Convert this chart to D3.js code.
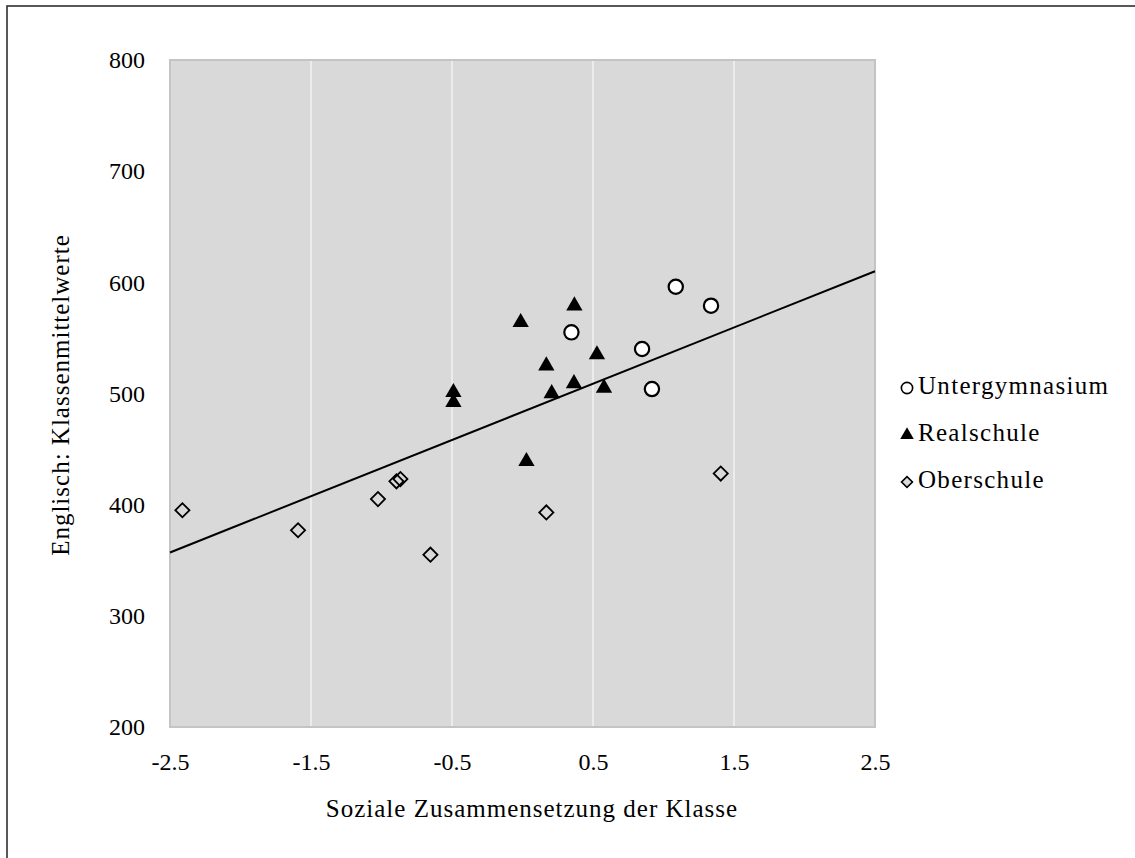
<!DOCTYPE html>
<html>
<head>
<meta charset="utf-8">
<script src="https://cdn.jsdelivr.net/npm/d3@7"></script>
<style>
  body { margin: 0; background: #fff; }
  text { font-family: "Liberation Serif", "Times New Roman", serif; fill: #000; }
</style>
</head>
<body>
<div id="chart"></div>
<script>
// Data
var gymX = [1.087, 1.337, 0.347, 0.848, 0.918];
var gymY = [596, 579, 555, 540, 504];

var realX = [0.368, -0.013, 0.528, 0.169, 0.365, 0.578, 0.207, -0.49, -0.49, 0.028];
var realY = [579, 564, 535, 525, 509, 505, 500, 501, 492, 439];

var oberX = [-2.412, -1.592, -1.025, -0.894, -0.866, -0.653, 1.406, 0.169];
var oberY = [395, 377, 405, 421, 423, 355, 428, 393];

var trendX = [-2.5, 2.5];
var trendY = [357, 610];

var xTicks = [-2.5, -1.5, -0.5, 0.5, 1.5, 2.5];
var yTicks = [200, 300, 400, 500, 600, 700, 800];
var seriesNames = ["Untergymnasium", "Realschule", "Oberschule"];

// Variables
var width = 1135;
var height = 858;
var plot = { left: 170, right: 875, top: 60, bottom: 727 };

var svg = d3.select('#chart')
    .append('svg')
    .attr('width', width)
    .attr('height', height);

// outer frame (only top and left edges visible)
svg.append('path')
    .attr('d', 'M7,' + height + 'V6H' + width)
    .attr('fill', 'none')
    .attr('stroke', '#222')
    .attr('stroke-width', 1.5);

var x = d3.scaleLinear().domain([-2.5, 2.5]).range([plot.left, plot.right]);
var y = d3.scaleLinear().domain([200, 800]).range([plot.bottom, plot.top]);

// plot area
svg.append('rect')
    .attr('x', plot.left)
    .attr('y', plot.top)
    .attr('width', plot.right - plot.left)
    .attr('height', plot.bottom - plot.top)
    .attr('fill', '#d9d9d9')
    .attr('stroke', '#c4c4c4')
    .attr('stroke-width', 2);

// vertical gridlines
svg.selectAll('.grid')
    .data(xTicks.slice(1, -1))
    .enter().append('line')
    .attr('x1', function (d) { return x(d); })
    .attr('x2', function (d) { return x(d); })
    .attr('y1', plot.top + 1)
    .attr('y2', plot.bottom - 1)
    .attr('stroke', '#fff')
    .attr('stroke-width', 1);

// axes (labels only)
var xAxis = svg.append('g')
    .attr('transform', 'translate(0,' + (plot.bottom + 35) + ')')
    .call(d3.axisBottom(x).tickValues(xTicks).tickSize(0)
        .tickFormat(function (d) { return d.toFixed(1); }));
xAxis.select('.domain').remove();
xAxis.selectAll('text')
    .attr('dy', '0.35em')
    .attr('y', 0)
    .style('font-size', '24px')
    .style('font-family', '"Liberation Serif", serif');

var yAxis = svg.append('g')
    .attr('transform', 'translate(' + (plot.left - 25) + ',0)')
    .call(d3.axisLeft(y).tickValues(yTicks).tickSize(0));
yAxis.select('.domain').remove();
yAxis.selectAll('text')
    .attr('x', 0)
    .style('font-size', '24px')
    .style('font-family', '"Liberation Serif", serif');

// axis titles
svg.append('text')
    .attr('x', 532)
    .attr('y', 811)
    .attr('text-anchor', 'middle')
    .attr('dominant-baseline', 'middle')
    .style('font-size', '25px')
    .style('letter-spacing', '1px')
    .text('Soziale Zusammensetzung der Klasse');

svg.append('text')
    .attr('transform', 'translate(63,' + 395 + ') rotate(-90)')
    .attr('text-anchor', 'middle')
    .attr('dominant-baseline', 'middle')
    .style('font-size', '25px')
    .style('letter-spacing', '1px')
    .text('Englisch: Klassenmittelwerte');

// trend line
svg.append('line')
    .attr('x1', x(trendX[0]))
    .attr('y1', y(trendY[0]))
    .attr('x2', x(trendX[1]))
    .attr('y2', y(trendY[1]))
    .attr('stroke', '#000')
    .attr('stroke-width', 2);

// marker shapes
var circleSym = d3.symbol().type(d3.symbolCircle).size(160);
var triSym = d3.symbol().type(d3.symbolTriangle).size(115);
var diaSym = d3.symbol().type(d3.symbolSquare).size(100);

function drawSeries(xs, ys, sym, fill, stroke, sw, rot) {
    svg.append('g').selectAll('path')
        .data(xs.map(function (d, i) { return [d, ys[i]]; }))
        .enter().append('path')
        .attr('d', sym)
        .attr('transform', function (d) {
            return 'translate(' + x(d[0]) + ',' + y(d[1]) + ')' + (rot ? ' rotate(45)' : '');
        })
        .attr('fill', fill)
        .attr('stroke', stroke)
        .attr('stroke-width', sw);
}

drawSeries(oberX, oberY, diaSym, 'none', '#000', 1.8, true);
drawSeries(realX, realY, triSym, '#000', 'none', 0, false);
drawSeries(gymX, gymY, circleSym, '#fff', '#000', 2.2, false);

// legend
var legendRows = [
    { name: seriesNames[0], sym: d3.symbol().type(d3.symbolCircle).size(100), fill: '#fff', stroke: '#000', sw: 1.6, rot: false },
    { name: seriesNames[1], sym: d3.symbol().type(d3.symbolTriangle).size(80), fill: '#000', stroke: 'none', sw: 0, rot: false },
    { name: seriesNames[2], sym: d3.symbol().type(d3.symbolSquare).size(60), fill: '#d9d9d9', stroke: '#000', sw: 1.6, rot: true }
];

var legend = svg.append('g');
var rows = legend.selectAll('g')
    .data(legendRows)
    .enter().append('g')
    .attr('transform', function (d, i) { return 'translate(907,' + (388 + i * 47) + ')'; });

rows.append('path')
    .attr('d', function (d) { return d.sym(); })
    .attr('transform', function (d) { return d.rot ? 'rotate(45)' : null; })
    .attr('fill', function (d) { return d.fill; })
    .attr('stroke', function (d) { return d.stroke; })
    .attr('stroke-width', function (d) { return d.sw; });

rows.append('text')
    .attr('x', 11)
    .attr('dominant-baseline', 'middle')
    .style('font-size', '25px')
    .style('letter-spacing', '1.3px')
    .text(function (d) { return d.name; });
</script>
</body>
</html>
